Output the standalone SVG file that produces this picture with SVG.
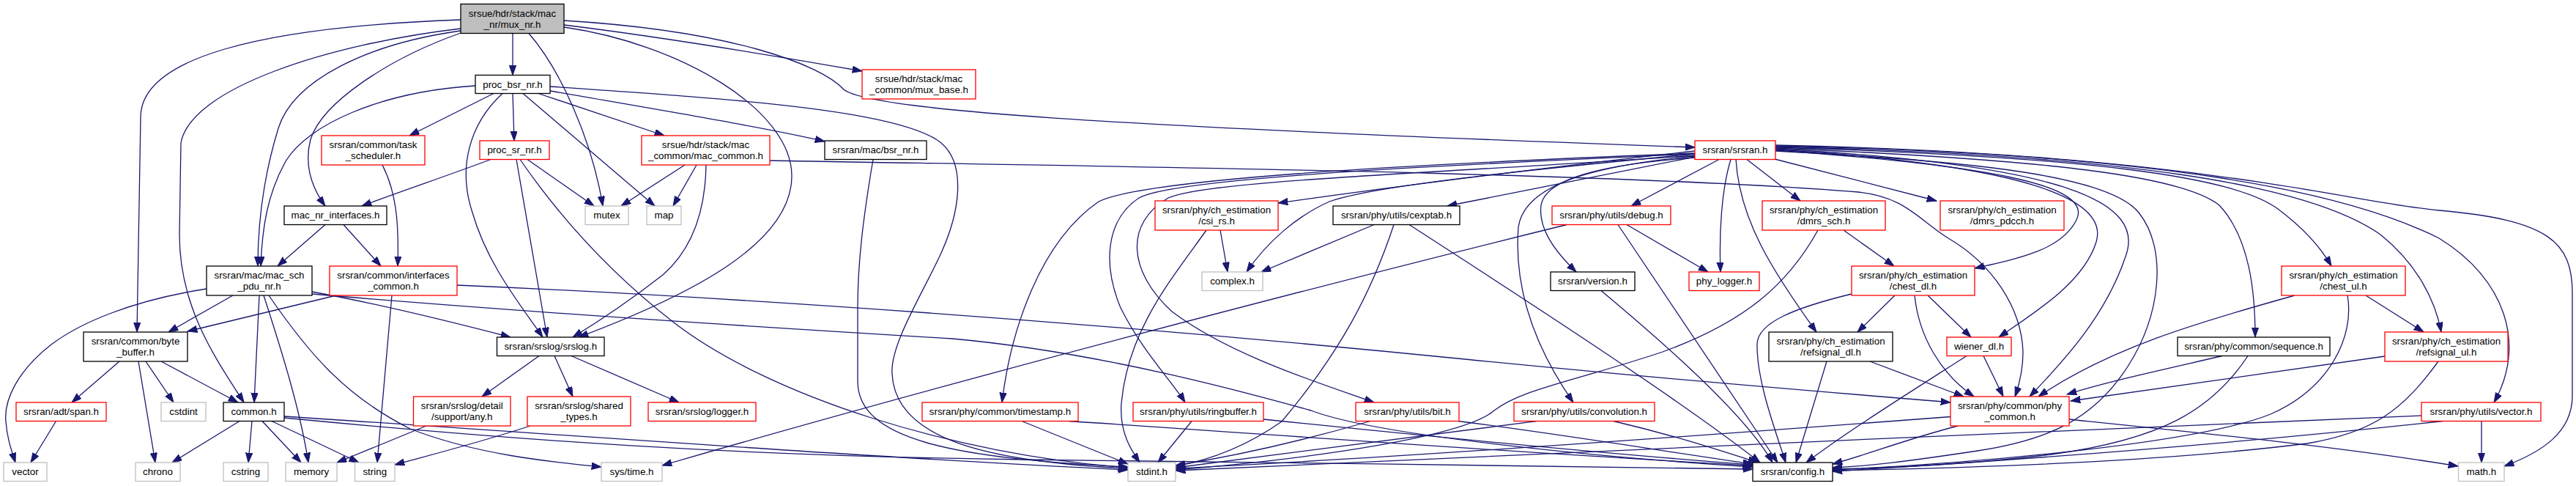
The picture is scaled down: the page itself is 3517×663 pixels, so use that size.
<svg xmlns="http://www.w3.org/2000/svg" width="3517" height="663" viewBox="0 0 3517 663">
<style>
.node rect{fill:#fff;stroke-width:1.3}
.node text{font-family:"Liberation Sans",Arial,Helvetica,sans-serif;font-size:13.33px;text-anchor:middle;fill:#000}
.k rect{stroke:#000}
.r rect{stroke:#ff0000}
.g rect{stroke:#bfbfbf}
.root rect{fill:#bfbfbf;stroke:#000}
#edges path{fill:none;stroke:#191970;stroke-width:1.3;marker-end:url(#a)}
</style>
<defs>
<marker id="a" markerUnits="userSpaceOnUse" markerWidth="14" markerHeight="10" refX="13.3" refY="4.65" orient="auto">
<path d="M0,0 L13.3,4.65 L0,9.3 Z" fill="#191970" stroke="#191970" stroke-width="1"/>
</marker>
</defs>
<rect width="3517" height="663" fill="#fff"/>
<g id="edges">
<path d="M700,45.5 L700,102.5"/>
<path d="M722,45.5 C765,95 808,190 823,281"/>
<path d="M770,37 C930,60 1081,150 1081,240 C1081,330 950,400 790,460"/>
<path d="M770,34 C900,50 1080,80 1177,97"/>
<path d="M770,28 C1000,42 1120,88 1152,122 C1185,150 1500,172 2314,201"/>
<path d="M629,27 C350,37 192,80 192,160 L187,453"/>
<path d="M629,39 C450,60 260,120 247,195 L245,320 C245,420 295,490 333,549"/>
<path d="M629,42 C500,60 400,110 380,175 C360,240 352,300 352,363"/>
<path d="M629,45 C530,80 440,140 424,190 C415,225 425,255 444,281"/>
<path d="M649,117 C520,125 420,170 390,220 C365,265 358,310 356,363"/>
<path d="M674,127.5 L559,185"/>
<path d="M686,127.5 C640,170 625,230 645,290 C665,360 710,415 741,460"/>
<path d="M700,127.5 L702,192"/>
<path d="M714,127.5 L894,281"/>
<path d="M735,127.5 L907,185"/>
<path d="M751,124 C900,150 1050,175 1126,193"/>
<path d="M751,118 C1000,135 1230,150 1285,195 C1320,225 1310,290 1285,345 C1260,400 1215,470 1218,510 C1222,600 1350,630 1540,639"/>
<path d="M1192,217.5 C1178,300 1171,360 1171,420 L1171,520 C1171,600 1300,625 1540,637"/>
<path d="M670,217.5 C610,240 550,260 494,281"/>
<path d="M720,217.5 L811,281"/>
<path d="M705,217.5 L747,460"/>
<path d="M710,217.5 C760,290 830,370 920,440 C1050,540 1300,620 1540,638"/>
<path d="M935,225 L848,281"/>
<path d="M951,225 L919,281"/>
<path d="M964,225 C963,290 945,340 905,375 C860,410 820,437 782,460"/>
<path d="M1051,219 C1500,227 2200,235 2537,262 C2600,268 2620,300 2660,325 C2720,360 2760,420 2762,480 C2762,510 2755,530 2751,541"/>
<path d="M522,225 C540,260 545,300 543,363"/>
<path d="M444,306.5 L379,363"/>
<path d="M469,306.5 L520,363"/>
<path d="M282,394 C180,410 110,440 70,470 C25,505 5,545 8,575 C10,600 16,615 21,631"/>
<path d="M318,403 L230,453"/>
<path d="M354,403 L347,549"/>
<path d="M360,403 C385,480 410,560 421,631"/>
<path d="M426,398 C520,415 620,440 697,460"/>
<path d="M426,401 C700,425 1100,450 1300,462 C1500,480 1700,535 1790,560 C1880,595 2200,625 2393,637"/>
<path d="M367,403 C420,480 470,540 560,585 C650,620 750,630 821,637"/>
<path d="M459,403 L256,452"/>
<path d="M535,403 L515,631"/>
<path d="M624,389 C1000,405 1500,440 2000,490 C2300,520 2500,535 2663,549"/>
<path d="M163,493 L98,549"/>
<path d="M189,493 L212,631"/>
<path d="M199,493 L237,549"/>
<path d="M220,493 L325,549"/>
<path d="M76.5,574.5 L42,631"/>
<path d="M327,574.5 L235,631"/>
<path d="M344,574.5 L339,631"/>
<path d="M358,574.5 L411,631"/>
<path d="M371,574.5 L490,631"/>
<path d="M388,568 C800,595 1200,625 1540,641"/>
<path d="M388,570 C700,600 1000,622 1400,627 C1700,630 2100,636 2393,640"/>
<path d="M736,485.5 L658,541"/>
<path d="M757,485.5 L782,541"/>
<path d="M780,485.5 L927,549"/>
<path d="M582,581 L460,631"/>
<path d="M724,581 C650,605 590,620 539,634"/>
<path d="M2314,206 C2100,230 1900,255 1745,277"/>
<path d="M2314,210 C2050,235 1870,255 1815,275 C1770,295 1730,330 1702,371"/>
<path d="M1876,306.5 L1722,371"/>
<path d="M1666,314 L1676,371"/>
<path d="M2314,214 L1976,281"/>
<path d="M2347,217.5 L2227,281"/>
<path d="M2314,215 C2180,225 2110,245 2104,280 C2100,310 2120,340 2152,371"/>
<path d="M2314,213 C2150,228 2080,260 2073,310 C2066,400 2100,480 2148,549"/>
<path d="M2363,217.5 C2350,260 2347,320 2349,371"/>
<path d="M2221,306.5 L2332,371"/>
<path d="M2385,217.5 L2458,274"/>
<path d="M2423,217 L2644,274"/>
<path d="M2370,217.5 C2375,300 2420,370 2480,453"/>
<path d="M2424,205 C2700,225 2860,250 2835,300 C2815,340 2760,352 2696,366"/>
<path d="M2424,204 C2760,225 2880,270 2862,330 C2845,385 2780,425 2729,460"/>
<path d="M2424,203 C2820,225 2930,275 2902,350 C2875,430 2820,490 2771,541"/>
<path d="M2424,202 C2800,218 2980,240 3030,280 C3072,325 3079,400 3079,460"/>
<path d="M2424,201 C2850,214 3050,240 3110,285 C3150,315 3170,340 3183,363"/>
<path d="M2424,200 C2900,212 3150,250 3250,320 C3300,360 3325,410 3333,453"/>
<path d="M2424,199 C2950,210 3200,260 3330,325 C3420,380 3450,470 3405,549"/>
<path d="M2424,198 C3000,210 3200,275 3330,287 C3480,300 3512,330 3512,400 L3512,540 C3512,590 3470,617 3419,636"/>
<path d="M2314,209 C1900,225 1560,245 1500,275 C1420,330 1380,450 1368,549"/>
<path d="M2314,210 C1900,228 1600,245 1555,270 C1510,300 1505,360 1530,420 C1560,480 1600,520 1618,549"/>
<path d="M2314,212 C2000,235 1650,245 1595,270 C1535,305 1540,370 1600,425 C1680,485 1800,522 1876,549"/>
<path d="M2424,206 C2700,220 2880,240 2920,290 C2960,340 2950,430 2905,500 C2860,570 2800,600 2700,615 C2600,630 2550,636 2502,638"/>
<path d="M2209,306.5 L2427,631"/>
<path d="M2139,306.5 C1800,390 1300,520 904,635"/>
<path d="M2186,396.5 C2250,450 2380,560 2420,631"/>
<path d="M1924,306.5 C2100,420 2300,550 2403,631"/>
<path d="M1903,306.5 C1872,400 1830,480 1750,575 C1700,610 1650,628 1605,636"/>
<path d="M1647,314 C1600,380 1540,450 1531,550 C1528,590 1545,615 1556,631"/>
<path d="M1395,574.5 L1540,633"/>
<path d="M1459,574.5 C1700,590 2100,620 2393,635"/>
<path d="M1627,574.5 L1581,631"/>
<path d="M1725,572 C1900,590 2200,620 2393,634"/>
<path d="M1871,574.5 C1800,595 1700,620 1605,635"/>
<path d="M1991,574.5 C2150,595 2300,620 2393,633"/>
<path d="M2098,574.5 C1900,600 1700,625 1605,638"/>
<path d="M2203,574.5 C2290,595 2350,615 2400,631"/>
<path d="M2517,314 L2586,363"/>
<path d="M2482,314 C2440,390 2380,440 2270,480 C2150,520 2080,530 2040,560 C2000,595 1800,625 1605,641"/>
<path d="M2587,403 L2536,453"/>
<path d="M2632,403 L2691,460"/>
<path d="M2614,403 C2620,460 2650,510 2695,541"/>
<path d="M2528,401 C2450,420 2400,440 2399,469 C2398,520 2425,590 2438,631"/>
<path d="M2553,493 L2681,541"/>
<path d="M2494,493 L2452,631"/>
<path d="M2708,485.5 L2735,541"/>
<path d="M2685,485.5 C2600,540 2520,590 2466,631"/>
<path d="M2663,568.5 C2300,596 1900,625 1605,639"/>
<path d="M2673,581 C2600,600 2550,620 2502,633"/>
<path d="M2825,572 C3000,590 3200,610 3356,636"/>
<path d="M3133,403 C3000,440 2880,475 2783,541"/>
<path d="M3034,485.5 C2950,505 2880,520 2822,538"/>
<path d="M3256,486 C3100,508 2950,530 2827,547"/>
<path d="M3069,485.5 C3020,560 2950,600 2800,620 C2700,632 2600,638 2502,640"/>
<path d="M3205,403 C3215,460 3180,530 3100,565 C3000,605 2700,632 2502,641"/>
<path d="M3329,493 C3280,560 3240,590 3150,605 C2950,630 2700,638 2502,642"/>
<path d="M3306,567 C2800,590 2000,620 1605,642"/>
<path d="M3335,574.5 C3100,600 2800,625 2502,643"/>
<path d="M3388,574.5 L3388,631"/>
<path d="M3230,403 L3309,453"/>
</g>
<g id="n_mux_nr" class="node root"><rect x="629" y="5.5" width="141" height="40"/><text x="699.5" y="22.8">srsue/hdr/stack/mac</text><text x="699.5" y="37.5">_nr/mux_nr.h</text></g>
<g id="n_proc_bsr" class="node k"><rect x="649" y="102.5" width="102" height="25"/><text x="700" y="119.7">proc_bsr_nr.h</text></g>
<g id="n_mux_base" class="node r"><rect x="1177" y="95" width="155" height="40"/><text x="1254.5" y="112.3">srsue/hdr/stack/mac</text><text x="1254.5" y="127">_common/mux_base.h</text></g>
<g id="n_task_sched" class="node r"><rect x="439" y="185" width="141" height="40"/><text x="509.5" y="202.3">srsran/common/task</text><text x="509.5" y="217">_scheduler.h</text></g>
<g id="n_proc_sr" class="node r"><rect x="655" y="192" width="95" height="25.5"/><text x="702.5" y="209.4">proc_sr_nr.h</text></g>
<g id="n_mac_common" class="node r"><rect x="876" y="185" width="175" height="40"/><text x="963.5" y="202.3">srsue/hdr/stack/mac</text><text x="963.5" y="217">_common/mac_common.h</text></g>
<g id="n_bsr_nr" class="node k"><rect x="1126" y="192" width="139" height="25.5"/><text x="1195.5" y="209.4">srsran/mac/bsr_nr.h</text></g>
<g id="n_srsran" class="node r"><rect x="2314" y="192" width="110" height="25.5"/><text x="2369" y="209.4">srsran/srsran.h</text></g>
<g id="n_mac_nr_if" class="node k"><rect x="388" y="281" width="140" height="25.5"/><text x="458" y="298.4">mac_nr_interfaces.h</text></g>
<g id="n_mutex" class="node g"><rect x="799" y="281" width="59" height="25.5"/><text x="828.5" y="298.4">mutex</text></g>
<g id="n_map" class="node g"><rect x="883" y="281" width="47" height="25.5"/><text x="906.5" y="298.4">map</text></g>
<g id="n_csi_rs" class="node r"><rect x="1577" y="274" width="168" height="40"/><text x="1661" y="291.3">srsran/phy/ch_estimation</text><text x="1661" y="306">/csi_rs.h</text></g>
<g id="n_cexptab" class="node k"><rect x="1820" y="281" width="173" height="25.5"/><text x="1906.5" y="298.4">srsran/phy/utils/cexptab.h</text></g>
<g id="n_debug" class="node r"><rect x="2119" y="281" width="162" height="25.5"/><text x="2200" y="298.4">srsran/phy/utils/debug.h</text></g>
<g id="n_dmrs_sch" class="node r"><rect x="2406" y="274" width="168" height="40"/><text x="2490" y="291.3">srsran/phy/ch_estimation</text><text x="2490" y="306">/dmrs_sch.h</text></g>
<g id="n_dmrs_pdcch" class="node r"><rect x="2649" y="274" width="169" height="40"/><text x="2733.5" y="291.3">srsran/phy/ch_estimation</text><text x="2733.5" y="306">/dmrs_pdcch.h</text></g>
<g id="n_mac_sch_pdu" class="node k"><rect x="282" y="363" width="144" height="40"/><text x="354" y="380.3">srsran/mac/mac_sch</text><text x="354" y="395">_pdu_nr.h</text></g>
<g id="n_if_common" class="node r"><rect x="450" y="363" width="174" height="40"/><text x="537" y="380.3">srsran/common/interfaces</text><text x="537" y="395">_common.h</text></g>
<g id="n_complex" class="node g"><rect x="1641" y="371" width="83" height="25.5"/><text x="1682.5" y="388.4">complex.h</text></g>
<g id="n_version" class="node k"><rect x="2117" y="371" width="115" height="25.5"/><text x="2174.5" y="388.4">srsran/version.h</text></g>
<g id="n_phy_logger" class="node r"><rect x="2306" y="371" width="96" height="25.5"/><text x="2354" y="388.4">phy_logger.h</text></g>
<g id="n_chest_dl" class="node r"><rect x="2528" y="363" width="168" height="40"/><text x="2612" y="380.3">srsran/phy/ch_estimation</text><text x="2612" y="395">/chest_dl.h</text></g>
<g id="n_chest_ul" class="node r"><rect x="3115" y="363" width="169" height="40"/><text x="3199.5" y="380.3">srsran/phy/ch_estimation</text><text x="3199.5" y="395">/chest_ul.h</text></g>
<g id="n_byte_buffer" class="node k"><rect x="114" y="453" width="142" height="40"/><text x="185" y="470.3">srsran/common/byte</text><text x="185" y="485">_buffer.h</text></g>
<g id="n_srslog" class="node k"><rect x="678.5" y="460" width="146.5" height="25.5"/><text x="751.75" y="477.4">srsran/srslog/srslog.h</text></g>
<g id="n_refsignal_dl" class="node k"><rect x="2415" y="453" width="169" height="40"/><text x="2499.5" y="470.3">srsran/phy/ch_estimation</text><text x="2499.5" y="485">/refsignal_dl.h</text></g>
<g id="n_wiener" class="node r"><rect x="2658" y="460" width="88" height="25.5"/><text x="2702" y="477.4">wiener_dl.h</text></g>
<g id="n_sequence" class="node k"><rect x="2973" y="460" width="208" height="25.5"/><text x="3077" y="477.4">srsran/phy/common/sequence.h</text></g>
<g id="n_refsignal_ul" class="node r"><rect x="3256" y="453" width="168" height="40"/><text x="3340" y="470.3">srsran/phy/ch_estimation</text><text x="3340" y="485">/refsignal_ul.h</text></g>
<g id="n_any" class="node r"><rect x="564.5" y="541" width="132.5" height="40"/><text x="630.75" y="558.3">srsran/srslog/detail</text><text x="630.75" y="573">/support/any.h</text></g>
<g id="n_shared" class="node r"><rect x="720" y="541" width="141" height="40"/><text x="790.5" y="558.3">srsran/srslog/shared</text><text x="790.5" y="573">_types.h</text></g>
<g id="n_phy_common" class="node r"><rect x="2663" y="541" width="162" height="40"/><text x="2744" y="558.3">srsran/phy/common/phy</text><text x="2744" y="573">_common.h</text></g>
<g id="n_span" class="node r"><rect x="22" y="549" width="123" height="25.5"/><text x="83.5" y="566.4">srsran/adt/span.h</text></g>
<g id="n_cstdint" class="node g"><rect x="220" y="549" width="61" height="25.5"/><text x="250.5" y="566.4">cstdint</text></g>
<g id="n_common" class="node k"><rect x="305" y="549" width="83" height="25.5"/><text x="346.5" y="566.4">common.h</text></g>
<g id="n_logger" class="node r"><rect x="885" y="549" width="147" height="25.5"/><text x="958.5" y="566.4">srsran/srslog/logger.h</text></g>
<g id="n_timestamp" class="node r"><rect x="1259" y="549" width="213" height="25.5"/><text x="1365.5" y="566.4">srsran/phy/common/timestamp.h</text></g>
<g id="n_ringbuffer" class="node r"><rect x="1547" y="549" width="178" height="25.5"/><text x="1636" y="566.4">srsran/phy/utils/ringbuffer.h</text></g>
<g id="n_bit" class="node r"><rect x="1851" y="549" width="141" height="25.5"/><text x="1921.5" y="566.4">srsran/phy/utils/bit.h</text></g>
<g id="n_convolution" class="node r"><rect x="2067" y="549" width="192" height="25.5"/><text x="2163" y="566.4">srsran/phy/utils/convolution.h</text></g>
<g id="n_vector_h" class="node r"><rect x="3306" y="549" width="163" height="25.5"/><text x="3387.5" y="566.4">srsran/phy/utils/vector.h</text></g>
<g id="n_vector" class="node g"><rect x="5" y="631" width="59" height="25.5"/><text x="34.5" y="648.4">vector</text></g>
<g id="n_chrono" class="node g"><rect x="185" y="631" width="61" height="25.5"/><text x="215.5" y="648.4">chrono</text></g>
<g id="n_cstring" class="node g"><rect x="305" y="631" width="61" height="25.5"/><text x="335.5" y="648.4">cstring</text></g>
<g id="n_memory" class="node g"><rect x="390" y="631" width="70" height="25.5"/><text x="425" y="648.4">memory</text></g>
<g id="n_string" class="node g"><rect x="484.5" y="631" width="54.5" height="25.5"/><text x="511.75" y="648.4">string</text></g>
<g id="n_systime" class="node g"><rect x="821" y="631" width="83" height="25.5"/><text x="862.5" y="648.4">sys/time.h</text></g>
<g id="n_stdint" class="node g"><rect x="1540" y="631" width="65" height="25.5"/><text x="1572.5" y="648.4">stdint.h</text></g>
<g id="n_config" class="node k"><rect x="2393" y="631" width="109" height="25.5"/><text x="2447.5" y="648.4">srsran/config.h</text></g>
<g id="n_math" class="node g"><rect x="3356.5" y="631" width="62.5" height="25.5"/><text x="3387.75" y="648.4">math.h</text></g>
</svg>
